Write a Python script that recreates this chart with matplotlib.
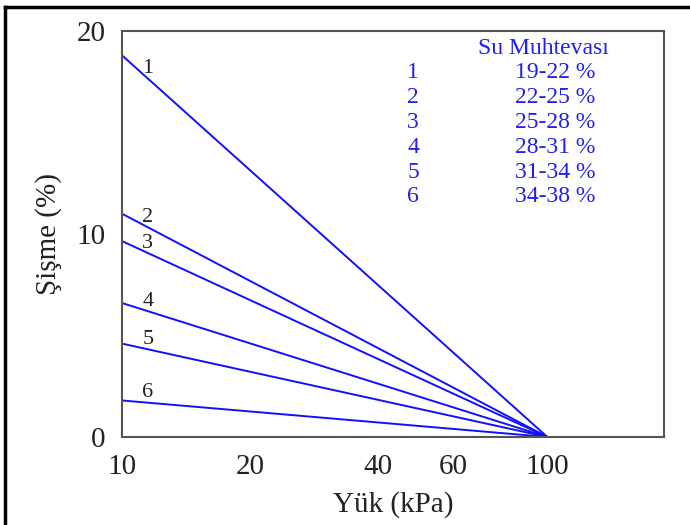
import math
import matplotlib.pyplot as plt
from matplotlib.lines import Line2D

plt.rcParams['font.family'] = ['Liberation Serif', 'DejaVu Serif']

curve_no = ['1', '2', '3', '4', '5', '6']
start_value = [18.8, 11.0, 9.65, 6.6, 4.6, 1.8]   # swell at 10 kPa
end_value = [0, 0, 0, 0, 0, 0]                    # swell at 100 kPa
load = [10, 100]
water_range = ['19-22 %', '22-25 %', '25-28 %', '28-31 %', '31-34 %', '34-38 %']
x_ticks = [10, 20, 40, 60, 100]
y_ticks = [0, 10, 20]

fig = plt.figure(figsize=(6.9, 5.25), dpi=100)
ax = fig.add_axes([0.1768, 0.1676, 0.7855, 0.7734])

for n, y0, y1 in zip(curve_no, start_value, end_value):
    ax.plot(load, [y0, y1], color='#1010ff', lw=1.4)
    # label sits just above the line near its left end
    xl = 11.5
    t = math.log10(xl) - 1
    yl = y0 + (y1 - y0) * t
    ax.annotate(n, (xl, yl), xytext=(0, 7), textcoords='offset points',
                ha='center', va='center', fontsize=16, color='#222222')

ax.set_xscale('log')
ax.set_xlim(10, 188)
ax.set_ylim(0, 20)
ax.set_xticks(x_ticks)
ax.set_xticklabels([str(v) for v in x_ticks])
ax.minorticks_off()
ax.set_yticks(y_ticks)
ax.tick_params(length=0, labelsize=21, colors='#222222')
ax.tick_params(axis='x', pad=12)
ax.tick_params(axis='y', pad=12)
for s in ax.spines.values():
    s.set_color('#555555')
    s.set_linewidth(1.5)

ax.set_xlabel('Yük (kPa)', fontsize=21, color='#222222', labelpad=8)
ax.set_ylabel('Şişme (%)', fontsize=21, color='#222222', labelpad=10)

# legend table
blue = '#2020ee'
fig.text(543/690, 1 - 48/525, 'Su Muhtevası', fontsize=17, color=blue,
         ha='center', va='center')
for i, (n, r) in enumerate(zip(curve_no, water_range)):
    yy = 1 - (73 + i * 24.8) / 525
    fig.text(413/690, yy, n, fontsize=17, color=blue,
             ha='center', va='center')
    fig.text(555/690, yy, r, fontsize=17, color=blue, ha='center', va='center')

# outer frame (left and top edges)
fig.add_artist(Line2D([5/690, 5/690], [0, 1 - 7/525], color='black', lw=2.5,
                      transform=fig.transFigure))
fig.add_artist(Line2D([5/690, 1], [1 - 7/525, 1 - 7/525], color='black', lw=2.5,
                      transform=fig.transFigure))

fig.savefig('out.png', dpi=100)
